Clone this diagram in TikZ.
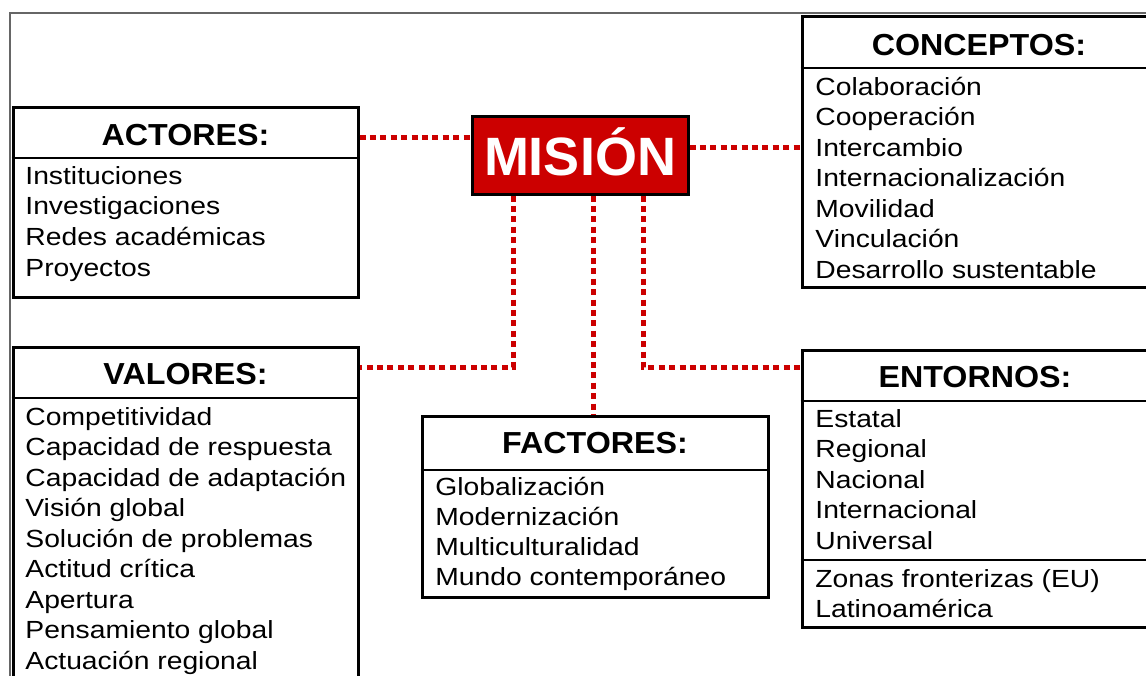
\documentclass[tikz,border=0pt]{standalone}
\usepackage{fontspec}
\setmainfont{Liberation Sans}
\newfontfamily\entryfam{Liberation Sans}[FakeStretch=1.14]
\newfontfamily\boxheadfam{Liberation Sans}[FakeStretch=1.06]
\newcommand\entryfont{\entryfam\fontsize{12.4}{15}\selectfont}
\newcommand\boxheadfont{\boxheadfam\bfseries\fontsize{15.2}{18}\selectfont}
\newcommand\misionfont{\bfseries\fontsize{27}{32}\selectfont}
\usetikzlibrary{fit}
\definecolor{misionred}{RGB}{204,0,0}
\definecolor{linkred}{RGB}{204,0,0}

\begin{document}
\begin{tikzpicture}[x=0.5pt, y=-0.5pt,
    box/.style={draw=black, line width=1.5pt, inner sep=0pt},
    divider/.style={line width=0.7pt},
    boxtitle/.style={font=\boxheadfont, inner sep=0pt, anchor=base},
    entry/.style={font=\entryfont, inner sep=0pt, anchor=base west},
    link/.style={draw=linkred, line width=2.5pt, dash pattern=on 3pt off 2.2pt},
    frame/.style={draw=gray!80!black, line width=0.6pt}]
  \useasboundingbox (0,0) rectangle (1146,675);
  \clip (0,0) rectangle (1146,675);
  \draw[frame] (10,680) |- (1150,13);

  \node[box, fit={(13,107) (358,297)}] (actores) {};
  \node[box, fit={(13,347) (358,700)}] (valores) {};
  \node[box, fit={(802,16) (1160,287)}] (conceptos) {};
  \node[box, fit={(802,350) (1160,627)}] (entornos) {};
  \node[box, fit={(422,416) (768,597)}] (factores) {};
  \node[box, fill=misionred, fit={(472,116) (688,194)}] (mision) {};

  \node[text=white, font=\misionfont, inner sep=0pt, anchor=base] (misiontext) at (mision.center |- 0,175) {MISIÓN};

  \node[boxtitle] (actorestit) at (actores.north |- 0,145) {ACTORES:};
  \node[boxtitle] (valorestit) at (valores.north |- 0,384) {VALORES:};
  \node[boxtitle] (conceptostit) at (979,55) {CONCEPTOS:};
  \node[boxtitle] (entornostit) at (975,387) {ENTORNOS:};
  \node[boxtitle] (factorestit) at (factores.north |- 0,453) {FACTORES:};

  \draw[divider] (actores.west |- 0,158) -- (actores.east |- 0,158);
  \draw[divider] (valores.west |- 0,398) -- (valores.east |- 0,398);
  \draw[divider] (conceptos.west |- 0,68) -- (conceptos.east |- 0,68);
  \draw[divider] (entornos.west |- 0,401) -- (entornos.east |- 0,401);
  \draw[divider] (entornos.west |- 0,560) -- (entornos.east |- 0,560);
  \draw[divider] (factores.west |- 0,470) -- (factores.east |- 0,470);

  \foreach \t [count=\i from 0] in {Instituciones, Investigaciones, Redes académicas, Proyectos}
    \node[entry] (actores-\i) at (25,{184+30.7*\i}) {\t};
  \foreach \t [count=\i from 0] in {Competitividad, Capacidad de respuesta, Capacidad de adaptación,
      Visión global, Solución de problemas, Actitud crítica, Apertura, Pensamiento global, Actuación regional}
    \node[entry] (valores-\i) at (25,{425+30.5*\i}) {\t};
  \foreach \t [count=\i from 0] in {Colaboración, Cooperación, Intercambio, Internacionalización,
      Movilidad, Vinculación, Desarrollo sustentable}
    \node[entry] (conceptos-\i) at (815,{95+30.5*\i}) {\t};
  \foreach \t [count=\i from 0] in {Estatal, Regional, Nacional, Internacional, Universal}
    \node[entry] (entornos-\i) at (815,{427+30.5*\i}) {\t};
  \foreach \t [count=\i from 0] in {Zonas fronterizas (EU), Latinoamérica}
    \node[entry] (zonas-\i) at (815,{587+30.5*\i}) {\t};
  \foreach \t [count=\i from 0] in {Globalización, Modernización, Multiculturalidad, Mundo contemporáneo}
    \node[entry] (factores-\i) at (435,{495+30.2*\i}) {\t};

  \draw[link] (actores.east |- 0,137) -- (mision.west |- 0,137);
  \draw[link] (mision.east |- 0,147) -- (conceptos.west |- 0,147);
  \draw[link] (mision.south -| 513,0) |- (valores.east |- 0,367);
  \draw[link] (mision.south -| 593,0) -- (factores.north -| 593,0);
  \draw[link] (mision.south -| 643,0) |- (entornos.west |- 0,367);
\end{tikzpicture}
\end{document}
